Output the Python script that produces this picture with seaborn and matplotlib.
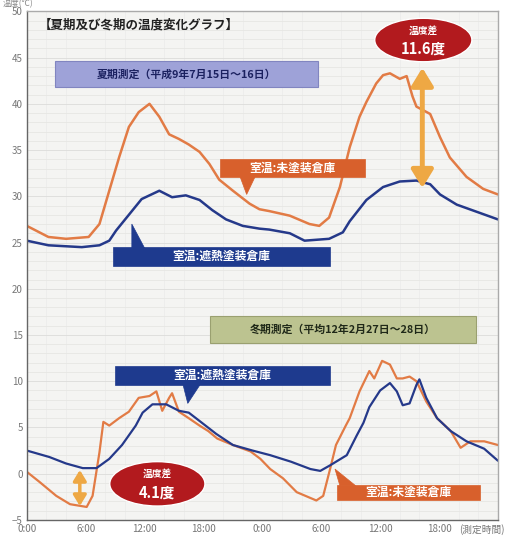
import numpy as np
import matplotlib
matplotlib.use("Agg")
import matplotlib.pyplot as plt
import seaborn as sns
from matplotlib.patches import Rectangle, Polygon, Ellipse, FancyArrowPatch

# 夏期 (平成9年7月15日~16日)
summer_orange_h = [0, 2.2, 4, 6.3, 7.4, 8.4, 9.4, 10.4, 11.4, 12.5, 13.5, 14.5, 15.5, 16.5, 17.6,
                   18.6, 19.6, 21.0, 22.7, 23.7, 24.7, 26.8, 28.8, 29.8, 30.8, 31.9, 32.9, 33.9,
                   34.6, 35.6, 36.3, 37.0, 38.0, 38.7, 39.3, 39.7, 41.1, 42.1, 43.1, 44.8, 46.5, 48]
summer_orange_t = [26.8, 25.6, 25.4, 25.6, 27.0, 30.6, 34.2, 37.5, 39.1, 40.0, 38.6, 36.7, 36.2, 35.6, 34.8,
                   33.5, 31.8, 30.6, 29.2, 28.6, 28.4, 27.9, 27.0, 26.8, 27.7, 31.0, 35.3, 38.6,
                   40.2, 42.2, 43.1, 43.3, 42.7, 43.0, 40.8, 39.7, 38.9, 36.4, 34.2, 32.1, 30.8, 30.2]

summer_blue_h = [0, 2.2, 5.6, 7.4, 8.4, 9.1, 10.4, 11.7, 13.5, 14.8, 16.2, 17.6, 18.9, 20.3, 22.0,
                 23.7, 24.7, 26.8, 28.3, 30.8, 32.2, 32.9, 34.6, 36.3, 38.0, 39.7, 41.1, 42.1,
                 43.8, 45.9, 48]
summer_blue_t = [25.2, 24.7, 24.5, 24.7, 25.2, 26.3, 28.0, 29.7, 30.6, 29.9, 30.1, 29.6, 28.5, 27.5, 26.8,
                 26.5, 26.4, 26.0, 25.2, 25.4, 26.1, 27.3, 29.6, 31.0, 31.6, 31.7, 31.3, 30.2,
                 29.1, 28.3, 27.5]

# 冬期 (平均12年2月27日~28日)
winter_blue_h = [0, 2.3, 4.0, 5.7, 7.1, 8.4, 9.7, 11.1, 11.8, 12.8, 14.2, 15.5, 16.5, 17.6, 19.3,
                 21.0, 23.0, 24.8, 26.9, 28.9, 29.9, 30.9, 32.6, 33.6, 34.3, 34.9, 36.0, 37.0,
                 37.7, 38.3, 39.0, 39.7, 40.0, 40.7, 41.8, 43.2, 44.8, 46.6, 48]
winter_blue_t = [2.5, 1.8, 1.1, 0.6, 0.6, 1.6, 3.1, 5.2, 6.6, 7.5, 7.5, 6.8, 6.6, 5.7, 4.3,
                 3.1, 2.5, 2.0, 1.3, 0.5, 0.3, 0.9, 2.0, 4.1, 5.5, 7.2, 9.0, 9.8,
                 8.9, 7.4, 7.6, 9.6, 10.2, 8.2, 6.0, 4.6, 3.5, 2.7, 1.4]

winter_orange_h = [0, 1.3, 3.0, 4.4, 6.1, 6.7, 7.4, 7.8, 8.4, 9.4, 10.4, 11.4, 12.5, 13.2, 13.8,
                   14.5, 14.8, 15.5, 16.5, 17.6, 18.5, 19.4, 21.0, 22.8, 23.8, 24.8, 26.1, 27.5,
                   29.5, 30.2, 30.9, 31.5, 32.5, 32.9, 33.9, 34.9, 35.4, 36.2, 37.0, 37.7, 38.3,
                   39.0, 39.7, 40.7, 41.8, 43.2, 44.2, 45.2, 46.6, 48]
winter_orange_t = [0.2, -0.9, -2.4, -3.3, -3.6, -2.4, 2.3, 5.6, 5.2, 6.0, 6.7, 8.2, 8.4, 8.9, 6.8,
                   8.2, 8.7, 6.7, 6.0, 5.2, 4.6, 3.8, 3.1, 2.4, 1.6, 0.5, -0.5, -2.0,
                   -2.9, -2.4, 0.5, 3.1, 5.2, 6.0, 8.9, 11.1, 10.3, 12.2, 11.8, 10.3, 10.3,
                   10.5, 10.0, 7.8, 6.0, 4.6, 2.8, 3.5, 3.5, 3.1]

tick_pos = [0, 6, 12, 18, 24, 30, 36, 42]
tick_labels = ["0:00", "6:00", "12:00", "18:00", "0:00", "6:00", "12:00", "18:00"]

ORANGE = "#e27b45"
NAVY = "#25398a"
LABEL_OR = "#d8602c"
LABEL_NV = "#1e3a8e"

sns.set_theme(style="white")
plt.rcParams["font.family"] = ["Noto Sans CJK JP", "DejaVu Sans"]

fig = plt.figure(figsize=(5.06, 5.41), dpi=100)
ax = fig.add_axes([0.053, 0.039, 0.931, 0.940])
ax.set_facecolor("#f4f4f2")

sns.lineplot(x=summer_orange_h, y=summer_orange_t, ax=ax, color=ORANGE, lw=1.8)
sns.lineplot(x=summer_blue_h, y=summer_blue_t, ax=ax, color=NAVY, lw=1.8)
sns.lineplot(x=winter_orange_h, y=winter_orange_t, ax=ax, color=ORANGE, lw=1.6)
sns.lineplot(x=winter_blue_h, y=winter_blue_t, ax=ax, color=NAVY, lw=1.6)

ax.set_xlim(0, 48)
ax.set_ylim(-5, 50)
ax.set_yticks(np.arange(-5, 51, 5))
ax.set_xticks(tick_pos)
ax.set_xticklabels(tick_labels)
ax.set_yticks(np.arange(-5, 51, 1), minor=True)
ax.set_xticks(np.arange(0, 49, 2), minor=True)
ax.grid(which="minor", axis="y", color="#e6e6e3", lw=0.6)
ax.grid(which="major", axis="y", color="#dcdcda", lw=0.6)
ax.grid(which="minor", axis="x", color="#ebebea", lw=0.5)
ax.set_axisbelow(True)
ax.tick_params(axis="both", which="both", length=0, labelsize=7, labelcolor="#777777", pad=3)
for s in ["left", "bottom"]:
    ax.spines[s].set_color("#666666")
    ax.spines[s].set_linewidth(1.0)
for s in ["right", "top"]:
    ax.spines[s].set_color("#aaaaaa")
    ax.spines[s].set_linewidth(1.0)
ax.set_xlabel("")
ax.set_ylabel("")

fig.text(0.005, 0.993, "温度(℃)", fontsize=6, color="#888888", va="center", ha="left")
fig.text(0.998, 0.021, "(測定時間)", fontsize=7, color="#777777", va="center", ha="right")

# title
ax.text(1.2, 48.5, "【夏期及び冬期の温度変化グラフ】", fontsize=9, fontweight="bold",
        color="#222222", va="center", ha="left")

# period boxes
ax.add_patch(Rectangle((2.9, 41.8), 26.8, 2.8, facecolor="#9ea2d8", edgecolor="#8185c0", lw=0.8, zorder=4))
ax.text(16.3, 43.2, "夏期測定（平成9年7月15日～16日）", fontsize=7.8, fontweight="bold",
        color="#1b2160", ha="center", va="center", zorder=5)
ax.add_patch(Rectangle((18.7, 14.1), 27.1, 3.0, facecolor="#bcc390", edgecolor="#9aa070", lw=0.8, zorder=4))
ax.text(32.2, 15.6, "冬期測定（平均12年2月27日～28日）", fontsize=7.8, fontweight="bold",
        color="#1f2818", ha="center", va="center", zorder=5)


def callout(x0, y0, w, h, tail, color, text):
    ax.add_patch(Rectangle((x0, y0), w, h, facecolor=color, edgecolor=color, lw=0.5, zorder=6))
    ax.add_patch(Polygon(tail, closed=True, facecolor=color, edgecolor=color, lw=0.5, zorder=6))
    ax.text(x0 + w / 2, y0 + h / 2, text, fontsize=8.5, fontweight="bold", color="white",
            ha="center", va="center", zorder=7)


callout(19.7, 32.1, 14.8, 1.9, [(21.7, 32.2), (23.3, 32.2), (22.4, 30.2)], LABEL_OR, "室温:未塗装倉庫")
callout(8.8, 22.5, 22.1, 2.0, [(10.7, 24.4), (12.0, 24.4), (10.7, 27.0)], LABEL_NV, "室温:遮熱塗装倉庫")
callout(9.0, 9.6, 21.9, 2.0, [(15.9, 9.7), (17.7, 9.7), (16.4, 7.6)], LABEL_NV, "室温:遮熱塗装倉庫")
callout(31.6, -2.9, 14.6, 1.7, [(31.9, -1.3), (33.5, -1.3), (31.4, 0.5)], LABEL_OR, "室温:未塗装倉庫")

# temperature difference arrows
for xa, y_lo, y_hi, lw, ms in [(40.3, 30.6, 44.2, 3.5, 12), (5.4, -3.8, 0.7, 2.5, 7)]:
    ax.add_patch(FancyArrowPatch((xa, y_lo), (xa, y_hi),
                                 arrowstyle="<|-|>,head_length=0.9,head_width=0.55",
                                 mutation_scale=ms, color="#eea844", lw=lw, zorder=5))

# ellipses
for cx, cy, w, h, val in [(40.4, 46.9, 9.9, 4.7, "11.6度"), (13.3, -1.1, 9.7, 4.8, "4.1度")]:
    ax.add_patch(Ellipse((cx, cy), w, h, facecolor="#b21a1e", edgecolor="white", lw=1.0, zorder=8))
    ax.text(cx, cy + 1.05, "温度差", fontsize=7, fontweight="bold", color="white",
            ha="center", va="center", zorder=9)
    ax.text(cx, cy - 0.95, val, fontsize=10.5, fontweight="bold", color="white",
            ha="center", va="center", zorder=9)

fig.savefig("out.png", dpi=100)
